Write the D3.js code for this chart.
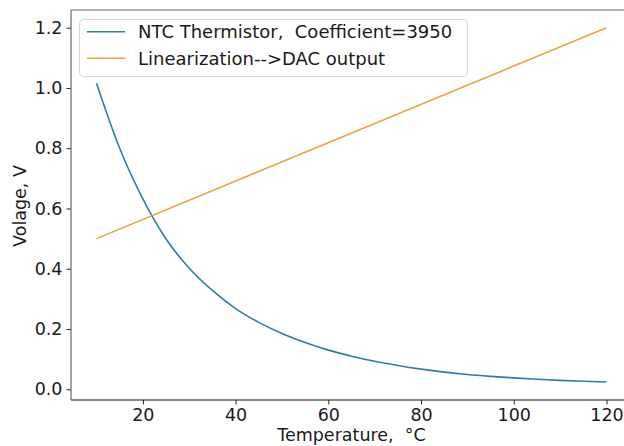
<!DOCTYPE html>
<html>
<head>
<meta charset="utf-8">
<script src="https://cdn.jsdelivr.net/npm/d3@7/dist/d3.min.js"></script>
<style>
  html, body { margin: 0; padding: 0; background: #fff; }
  svg { display: block; }
  text { font-family: "DejaVu Sans", sans-serif; fill: #1a1a1a; white-space: pre; }
</style>
</head>
<body>
<svg id="chart" width="624" height="446"></svg>
<script>
// ---- data ----
const ntcTemps = [10, 15, 20, 25, 30, 35, 40, 45, 50, 55, 60, 65, 70, 75, 80, 85, 90, 95, 100, 105, 110, 115, 120];
const ntcVolts = [1.016, 0.80, 0.632, 0.499, 0.402, 0.328, 0.268, 0.222, 0.185, 0.155, 0.130, 0.110, 0.093, 0.079, 0.067, 0.057, 0.049, 0.043, 0.038, 0.0335, 0.0295, 0.0265, 0.024];
const linTemps = [10, 120];
const linVolts = [0.5, 1.2];
const xTicks = [20, 40, 60, 80, 100, 120];
const yTicks = [0.0, 0.2, 0.4, 0.6, 0.8, 1.0, 1.2];
const seriesNames = ["NTC Thermistor,  Coefficient=3950", "Linearization-->DAC output"];
const seriesColors = ["#2f7bb0", "#f0a040"];
const xLabel = "Temperature,  \u00B0C";
const yLabel = "Volage, V";

// ---- layout ----
const svg = d3.select("#chart");
const plot = { left: 71, top: 10, right: 632, bottom: 400 };

const x = d3.scaleLinear().domain([4.5, 125.5]).range([plot.left, plot.right]);
const y = d3.scaleLinear().domain([-0.0355, 1.2587]).range([plot.bottom, plot.top]);

const fs = 17.5;
const legendFs = 18;

// clip
svg.append("defs").append("clipPath").attr("id", "clip")
  .append("rect").attr("x", plot.left).attr("y", plot.top)
  .attr("width", plot.right - plot.left).attr("height", plot.bottom - plot.top);

// lines
const line = d3.line().x(d => x(d[0])).y(d => y(d[1])).curve(d3.curveMonotoneX);
const g = svg.append("g").attr("clip-path", "url(#clip)");
g.append("path")
  .datum(ntcTemps.map((t, i) => [t, ntcVolts[i]]))
  .attr("d", line).attr("fill", "none")
  .attr("stroke", seriesColors[0]).attr("stroke-width", 1.6);
g.append("path")
  .datum(linTemps.map((t, i) => [t, linVolts[i]]))
  .attr("d", line).attr("fill", "none")
  .attr("stroke", seriesColors[1]).attr("stroke-width", 1.6);

// axes
const xAxis = d3.axisBottom(x).tickValues(xTicks).tickFormat(d3.format("d")).tickSize(4.5).tickPadding(4);
const yAxis = d3.axisLeft(y).tickValues(yTicks).tickFormat(d3.format(".1f")).tickSize(4.5).tickPadding(4);

const gx = svg.append("g").attr("transform", `translate(0,${plot.bottom})`).call(xAxis);
const gy = svg.append("g").attr("transform", `translate(${plot.left},0)`).call(yAxis);
[gx, gy].forEach(a => {
  a.select(".domain").remove();
  a.selectAll(".tick line").attr("stroke", "#222").attr("stroke-width", 1);
  a.selectAll(".tick text").attr("font-size", fs).attr("font-family", "DejaVu Sans").attr("fill", "#1a1a1a");
});

// spines
svg.append("line").attr("x1", plot.left).attr("x2", plot.right).attr("y1", plot.bottom).attr("y2", plot.bottom)
  .attr("stroke", "#111").attr("stroke-width", 1.2);
svg.append("line").attr("x1", plot.left).attr("x2", plot.left).attr("y1", plot.top).attr("y2", plot.bottom)
  .attr("stroke", "#666").attr("stroke-width", 1.2);
svg.append("line").attr("x1", plot.left).attr("x2", plot.right).attr("y1", plot.top).attr("y2", plot.top)
  .attr("stroke", "#666").attr("stroke-width", 1.2);

// axis labels
svg.append("text").attr("x", (plot.left + plot.right) / 2).attr("y", 441)
  .attr("text-anchor", "middle").attr("font-size", fs).text(xLabel);
svg.append("text").attr("transform", `translate(25.5,${(plot.top + plot.bottom) / 2 + 1}) rotate(-90)`)
  .attr("text-anchor", "middle").attr("font-size", fs).text(yLabel);

// legend
const lg = svg.append("g");
lg.append("rect").attr("x", 79.5).attr("y", 19.5).attr("width", 388).attr("height", 57).attr("rx", 4)
  .attr("fill", "#fff").attr("fill-opacity", 0.85).attr("stroke", "#d8d8d8").attr("stroke-width", 1);
seriesNames.forEach((name, i) => {
  const cy = 31.7 + i * 26.6;
  lg.append("line").attr("x1", 87).attr("x2", 125).attr("y1", cy).attr("y2", cy)
    .attr("stroke", seriesColors[i]).attr("stroke-width", 1.6);
  lg.append("text").attr("x", 138).attr("y", cy).attr("dy", "0.35em")
    .attr("font-size", legendFs).text(name);
});
</script>
</body>
</html>
